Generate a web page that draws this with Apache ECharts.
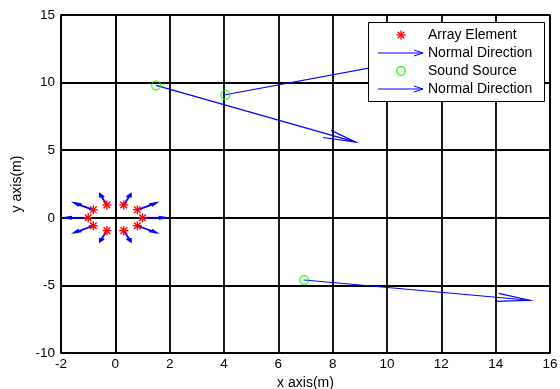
<!DOCTYPE html>
<html>
<head>
<meta charset="utf-8">
<script src="https://cdn.jsdelivr.net/npm/echarts@6/dist/echarts.min.js"></script>
<style>html,body{margin:0;padding:0;background:#fff;}#c{width:560px;height:389px;}</style>
</head>
<body>
<div id="c"></div>
<script>
// Array elements (positions)
const elemX = [1.00, 0.81, 0.31, -0.31, -0.81, -1.00, -0.81, -0.31, 0.31, 0.81];
const elemY = [0.00, 0.59, 0.95, 0.95, 0.59, 0.00, -0.59, -0.95, -0.95, -0.59];
// Normal direction of each element
const elemU = [0.85, 0.69, 0.26, -0.26, -0.69, -0.85, -0.69, -0.26, 0.26, 0.69];
const elemV = [0.00, 0.50, 0.81, 0.81, 0.50, 0.00, -0.50, -0.81, -0.81, -0.50];
// Sound sources and their normal directions
const srcX = [1.50, 4.05, 6.95];
const srcY = [9.80, 9.10, -4.60];
const srcU = [7.35, 7.90, 8.30];
const srcV = [-4.20, 2.95, -1.50];
// Tick labels
const xTicks = [-2, 0, 2, 4, 6, 8, 10, 12, 14, 16];
const yTicks = [-10, -5, 0, 5, 10, 15];

const FONT = '"Liberation Sans", Arial, sans-serif';
const BLUE = '#0000ff';

function makeQuiver(width, a, b) {
  return function (params, api) {
    const x = api.value(0), y = api.value(1), u = api.value(2), v = api.value(3);
    const p0 = api.coord([x, y]);
    const p1 = api.coord([x + u, y + v]);
    const b1 = api.coord([x + u - a * (u + b * v), y + v - a * (v - b * u)]);
    const b2 = api.coord([x + u - a * (u - b * v), y + v - a * (v + b * u)]);
    const st = { stroke: BLUE, lineWidth: width, fill: null };
    return {
      type: 'group',
      children: [
        { type: 'polyline', shape: { points: [p0, p1] }, style: st },
        { type: 'polyline', shape: { points: [b1, p1, b2] }, style: st }
      ]
    };
  };
}

function starShapes(cx, cy, z) {
  const r = 4.5, d = 3.3;
  const st = { stroke: '#ff0000', lineWidth: 1.4 };
  return [
    { type: 'line', shape: { x1: cx - r, y1: cy, x2: cx + r, y2: cy }, style: st, z: z },
    { type: 'line', shape: { x1: cx, y1: cy - r, x2: cx, y2: cy + r }, style: st, z: z },
    { type: 'line', shape: { x1: cx - d, y1: cy - d, x2: cx + d, y2: cy + d }, style: st, z: z },
    { type: 'line', shape: { x1: cx - d, y1: cy + d, x2: cx + d, y2: cy - d }, style: st, z: z }
  ];
}

function starItem(params, api) {
  const p = api.coord([api.value(0), api.value(1)]);
  return { type: 'group', children: starShapes(p[0], p[1], 0) };
}

const elemData = elemX.map((x, i) => [x, elemY[i]]);
const elemQuiver = elemX.map((x, i) => [x, elemY[i], elemU[i], elemV[i]]);
const srcData = srcX.map((x, i) => [x, srcY[i]]);
const srcQuiver = srcX.map((x, i) => [x, srcY[i], srcU[i], srcV[i]]);

const chart = echarts.init(document.getElementById('c'), null, { renderer: 'canvas' });

// legend drawing helpers
const LX = 368, LY = 22, LW = 176, LH = 79;
const rows = [35, 53, 71, 89];
const iconX = 401;
function legendArrow(y) {
  return [
    { type: 'polyline', shape: { points: [[378, y], [423, y]] }, style: { stroke: BLUE, lineWidth: 1, fill: null }, z: 101 },
    { type: 'polyline', shape: { points: [[414, y - 3], [423, y], [414, y + 3]] }, style: { stroke: BLUE, lineWidth: 1, fill: null }, z: 101 }
  ];
}
function legendText(txt, y) {
  return { type: 'text', x: 428, y: y, style: { text: txt, font: '14px ' + FONT, fill: '#000', verticalAlign: 'middle' }, z: 101 };
}

const graphics = [
  { type: 'rect', shape: { x: LX + 0.5, y: LY + 0.5, width: LW, height: LH }, style: { fill: '#fff', stroke: '#000', lineWidth: 1 }, z: 100 },
  ...starShapes(iconX, rows[0], 101),
  legendText('Array Element', rows[0]),
  ...legendArrow(rows[1]),
  legendText('Normal Direction', rows[1]),
  { type: 'circle', shape: { cx: iconX, cy: rows[2], r: 4.3 }, style: { fill: null, stroke: '#00ff00', lineWidth: 1.2 }, z: 101 },
  legendText('Sound Source', rows[2]),
  ...legendArrow(rows[3]),
  legendText('Normal Direction', rows[3])
];

chart.setOption({
  animation: false,
  backgroundColor: '#fff',
  grid: { left: 61, right: 10, top: 15, bottom: 36, outerBoundsMode: 'none', containLabel: false,
    show: true, borderColor: '#000', borderWidth: 1.5, backgroundColor: 'transparent' },
  xAxis: {
    type: 'value', min: xTicks[0], max: xTicks[xTicks.length - 1], interval: 2,
    name: 'x axis(m)', nameLocation: 'middle', nameGap: 21,
    nameTextStyle: { color: '#000', fontSize: 14, fontFamily: FONT },
    axisLine: { show: true, lineStyle: { color: '#000', width: 1.5 } },
    axisTick: { show: false },
    splitLine: { show: true, lineStyle: { color: '#000', width: 1.8 } },
    axisLabel: { color: '#000', fontSize: 13.5, fontFamily: FONT, margin: 4,
      formatter: v => (xTicks.indexOf(v) >= 0 ? String(v) : '') }
  },
  yAxis: {
    type: 'value', min: yTicks[0], max: yTicks[yTicks.length - 1], interval: 5,
    name: 'y axis(m)', nameLocation: 'middle', nameGap: 36,
    nameTextStyle: { color: '#000', fontSize: 14, fontFamily: FONT },
    axisLine: { show: true, lineStyle: { color: '#000', width: 1.5 } },
    axisTick: { show: false },
    splitLine: { show: true, lineStyle: { color: '#000', width: 1.8 } },
    axisLabel: { color: '#000', fontSize: 13.5, fontFamily: FONT, margin: 6,
      formatter: v => (yTicks.indexOf(v) >= 0 ? String(v) : '') }
  },
  graphic: graphics,
  series: [
    { type: 'custom', name: 'Array Element', renderItem: starItem, data: elemData, encode: { x: 0, y: 1 }, z: 5 },
    { type: 'custom', name: 'Normal Direction', renderItem: makeQuiver(1.8, 0.3, 0.33), data: elemQuiver, encode: { x: 0, y: 1 }, z: 4 },
    { type: 'scatter', name: 'Sound Source', data: srcData, symbol: 'circle', symbolSize: 9,
      itemStyle: { color: 'rgba(0,0,0,0)', borderColor: '#00ff00', borderWidth: 1.3 }, z: 5 },
    { type: 'custom', name: 'Normal Direction 2', renderItem: makeQuiver(1.2, 0.144, 0.25), data: srcQuiver, encode: { x: 0, y: 1 }, z: 4 }
  ]
});
</script>
</body>
</html>
